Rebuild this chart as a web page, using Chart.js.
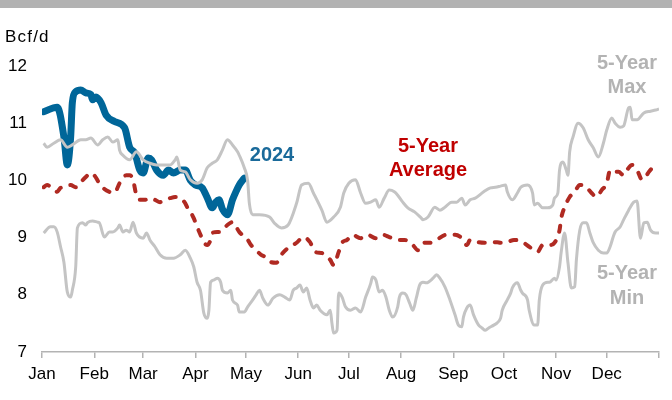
<!DOCTYPE html>
<html>
<head>
<meta charset="utf-8">
<script src="https://cdn.jsdelivr.net/npm/chart.js@4"></script>
<style>
  html, body { margin: 0; padding: 0; background: #ffffff; }
  #wrap { position: relative; width: 672px; height: 400px; }
</style>
</head>
<body>
<div id="wrap"><canvas id="c" width="672" height="400"></canvas></div>
<script>
// ---- Data (day of year from Jan 1 = 0, values in Bcf/d) ----
const monthLabels = ["Jan","Feb","Mar","Apr","May","Jun","Jul","Aug","Sep","Oct","Nov","Dec",""];
const monthStartDays = [0,31,60,91,121,152,182,213,244,274,305,335,366];
const yTicks = [7,8,9,10,11,12];

const days2024 = [1,9,13,15,17,18,20,23,26,29,30,32,35,38,43,49,52,55,58,60,63,65,68,72,75,78,82,85,88,91,95,98,101,103,105,107,110,113,115,117,120];
const vals2024 = [11.2,11.28,10.76,10.27,10.76,11.36,11.55,11.58,11.53,11.5,11.41,11.46,11.36,11.14,11.03,10.92,10.58,10.48,10.18,10.13,10.39,10.36,10.18,10.09,10.18,10.13,10.18,10.18,10.0,9.92,9.87,9.7,9.52,9.62,9.66,9.5,9.4,9.66,9.8,9.92,10.04];

const daysAvg = [1,3,7,9,11,13,17,20,23,26,29,31,34,37,40,43,46,50,52,54,56,58,61,64,67,70,73,76,79,82,85,87,88,90,92,94,96,98,100,101,104,106,107,110,113,117,122,124,127,130,134,136,139,142,146,151,155,159,162,166,171,173,176,178,181,184,189,193,198,202,206,211,215,220,223,227,230,234,240,245,249,252,254,259,263,266,270,272,276,280,285,289,294,297,301,304,307,308,310,313,316,319,321,323,326,329,332,335,337,339,342,345,347,350,353,356,358,360,362];
const valsAvg = [9.88,9.92,9.83,9.8,9.87,9.88,9.92,9.88,9.97,10.06,10.13,10.09,9.95,9.85,9.8,9.78,9.95,10.09,10.09,10.01,9.74,9.66,9.66,9.69,9.66,9.62,9.66,9.69,9.71,9.69,9.6,9.48,9.45,9.34,9.19,9.05,8.92,8.87,8.96,9.08,9.1,9.1,9.13,9.22,9.27,9.1,8.96,8.87,8.78,8.7,8.64,8.57,8.56,8.7,8.82,8.91,9.01,8.92,8.75,8.73,8.61,8.52,8.75,8.91,8.96,9.05,8.99,9.05,8.99,9.05,9.01,8.96,8.96,8.87,8.78,8.91,8.91,8.96,9.05,9.05,8.99,8.87,8.96,8.92,8.91,8.91,8.92,8.91,8.92,8.96,8.92,8.84,8.75,8.87,8.87,8.91,9.13,9.34,9.53,9.71,9.8,9.92,9.92,9.88,9.78,9.71,9.83,9.95,10.18,10.15,10.15,10.09,10.18,10.27,10.18,10.01,10.06,10.15,10.22];

const daysMax = [1,3,7,11,15,18,23,26,29,33,36,39,42,45,46,48,52,56,60,64,68,72,76,79,80,82,85,88,92,95,98,101,104,107,110,113,116,117,120,122,123,125,129,135,138,142,146,151,154,158,161,166,169,173,177,179,182,186,189,192,195,198,200,203,206,209,211,214,217,221,225,226,229,233,236,239,243,246,249,251,254,257,262,266,269,272,275,276,279,282,284,288,291,292,294,297,300,303,304,306,307,309,311,312,313,315,318,321,324,327,330,333,335,338,340,343,345,348,349,350,353,357,361,364,366];
const valsMax = [10.65,10.58,10.65,10.71,10.58,10.62,10.71,10.71,10.74,10.62,10.71,10.76,10.67,10.71,10.53,10.44,10.36,10.5,10.36,10.3,10.27,10.27,10.27,10.36,10.41,10.18,10.15,10.01,9.95,10.01,10.22,10.3,10.36,10.53,10.71,10.62,10.5,10.44,10.22,9.99,9.6,9.4,9.4,9.36,9.25,9.17,9.22,9.6,9.92,9.95,9.78,9.48,9.27,9.36,9.53,9.78,9.95,10.01,9.78,9.6,9.62,9.66,9.53,9.69,9.83,9.8,9.74,9.62,9.52,9.45,9.34,9.31,9.36,9.53,9.48,9.53,9.62,9.62,9.69,9.57,9.66,9.69,9.8,9.87,9.88,9.9,9.92,9.8,9.66,9.78,9.88,9.92,9.78,9.57,9.6,9.52,9.52,9.57,9.69,9.78,10.18,10.32,10.18,10.09,10.5,10.76,11.0,10.92,10.71,10.57,10.41,10.65,10.88,11.09,11.0,10.93,10.95,11.27,11.28,11.06,11.06,11.18,11.21,11.23,11.25];

const daysMin = [1,5,7,9,11,13,15,17,18,20,21,24,26,27,30,33,34,37,40,42,45,46,48,50,52,54,56,60,62,64,67,70,74,78,82,85,88,90,92,94,96,98,99,100,102,104,106,107,110,112,113,116,117,120,122,125,127,129,131,134,137,141,144,147,149,151,153,155,157,159,161,163,165,169,171,172,173,175,176,178,180,183,186,189,192,195,196,198,200,202,204,206,208,211,212,214,216,218,220,222,224,226,228,232,234,236,239,242,245,247,249,250,252,254,256,259,261,263,265,268,270,272,273,276,278,279,282,284,285,288,289,292,294,295,297,300,301,304,305,307,308,310,312,314,316,317,319,321,323,325,327,330,333,335,337,339,340,343,345,348,351,353,355,357,359,361,364,366];
const valsMin = [9.08,9.19,9.19,9.1,8.84,8.57,8.05,7.96,8.08,8.49,9.17,9.26,9.22,9.26,9.29,9.27,9.26,9.01,9.1,9.1,9.17,9.22,9.1,9.13,9.1,9.27,9.08,8.99,9.08,8.96,8.84,8.7,8.64,8.64,8.7,8.78,8.64,8.49,8.22,8.08,7.68,7.59,7.73,8.22,8.26,8.29,8.22,8.08,8.03,8.08,7.91,7.82,7.7,7.7,7.79,7.91,8.0,8.08,7.94,7.82,7.94,8.0,7.96,7.91,8.08,8.12,8.17,8.05,8.12,7.91,7.77,7.82,7.73,7.65,7.73,7.5,7.33,7.38,8.03,7.96,7.79,7.73,7.77,7.7,7.96,8.2,8.31,8.26,8.05,8.08,7.96,7.73,7.61,7.79,7.96,8.03,8.0,7.86,7.73,7.94,8.17,8.22,8.21,8.29,8.35,8.29,8.14,7.91,7.65,7.47,7.44,7.61,7.77,7.82,7.65,7.47,7.42,7.38,7.42,7.47,7.51,7.59,7.73,7.91,8.03,8.12,8.21,8.08,8.03,7.91,7.73,7.47,7.47,7.91,8.17,8.22,8.22,8.29,8.26,8.49,8.75,9.08,8.56,8.12,8.14,8.61,9.13,9.26,9.26,9.08,8.91,8.78,8.73,8.73,8.84,9.03,9.1,9.19,9.31,9.48,9.62,9.64,8.99,9.26,9.27,9.13,9.08,9.08];

const toXY = (ds, vs) => ds.map((d, i) => ({ x: d, y: vs[i] }));

const FONT = '"Liberation Sans", Arial, sans-serif';

const decor = {
  id: 'decor',
  afterDraw(chart) {
    const ctx = chart.ctx;
    ctx.save();
    // top band
    ctx.fillStyle = '#b2b2b2';
    ctx.fillRect(0, 0, chart.width, 8);
    // unit label
    ctx.fillStyle = '#000000';
    ctx.font = '17px ' + FONT;
    ctx.textAlign = 'left';
    ctx.textBaseline = 'alphabetic';
    try { ctx.letterSpacing = '1.2px'; } catch (e) {}
    ctx.fillText('Bcf/d', 5, 42);
    try { ctx.letterSpacing = '0px'; } catch (e) {}
    // series labels
    ctx.font = 'bold 20px ' + FONT;
    ctx.textAlign = 'center';
    ctx.textBaseline = 'middle';
    ctx.fillStyle = '#1a6a9a';
    ctx.fillText('2024', 272, 155);
    ctx.fillStyle = '#c00000';
    ctx.fillText('5-Year', 428, 146);
    ctx.fillText('Average', 428, 170);
    ctx.fillStyle = '#b3b3b3';
    ctx.fillText('5-Year', 627, 63);
    ctx.fillText('Max', 627, 87);
    ctx.fillText('5-Year', 627, 273);
    ctx.fillText('Min', 627, 298);
    ctx.restore();
  }
};

new Chart(document.getElementById('c'), {
  type: 'line',
  data: {
    datasets: [
      { label: '5-Year Max', data: toXY(daysMax, valsMax), borderColor: '#c4c4c4', borderWidth: 3, pointRadius: 0, cubicInterpolationMode: 'monotone', fill: false },
      { label: '5-Year Min', data: toXY(daysMin, valsMin), borderColor: '#c4c4c4', borderWidth: 3, pointRadius: 0, cubicInterpolationMode: 'monotone', fill: false },
      { label: '5-Year Average', data: toXY(daysAvg, valsAvg), borderColor: '#b02a22', borderWidth: 4, borderDash: [6, 10], borderCapStyle: 'round', pointRadius: 0, cubicInterpolationMode: 'monotone', fill: false },
      { label: '2024', data: toXY(days2024, vals2024), borderColor: '#006699', borderWidth: 7, borderCapStyle: 'round', borderJoinStyle: 'round', pointRadius: 0, cubicInterpolationMode: 'monotone', fill: false }
    ]
  },
  options: {
    responsive: false,
    animation: false,
    layout: { padding: { top: 66, right: 13, left: 0, bottom: 0 } },
    plugins: { legend: { display: false }, tooltip: { enabled: false }, title: { display: false } },
    scales: {
      x: {
        type: 'linear',
        min: 0,
        max: 366,
        afterBuildTicks: (scale) => { scale.ticks = monthStartDays.map(v => ({ value: v })); },
        afterFit: (scale) => { scale.height = 48; },
        ticks: {
          autoSkip: false,
          maxRotation: 0,
          padding: 6,
          color: '#000000',
          font: { family: FONT, size: 17 },
          callback: (v) => { const i = monthStartDays.indexOf(v); return i >= 0 ? monthLabels[i] : ''; }
        },
        grid: { display: true, drawOnChartArea: false, drawTicks: true, tickLength: 6, color: '#b3b3b3', lineWidth: 1.5 },
        border: { display: true, color: '#b3b3b3', width: 1.5 }
      },
      y: {
        min: 7,
        max: 12,
        afterBuildTicks: (scale) => { scale.ticks = yTicks.map(v => ({ value: v })); },
        afterFit: (scale) => { scale.width = 42; },
        ticks: {
          padding: 15,
          color: '#000000',
          font: { family: FONT, size: 17 }
        },
        grid: { display: false, drawTicks: false },
        border: { display: false }
      }
    }
  },
  plugins: [decor]
});
</script>
</body>
</html>
